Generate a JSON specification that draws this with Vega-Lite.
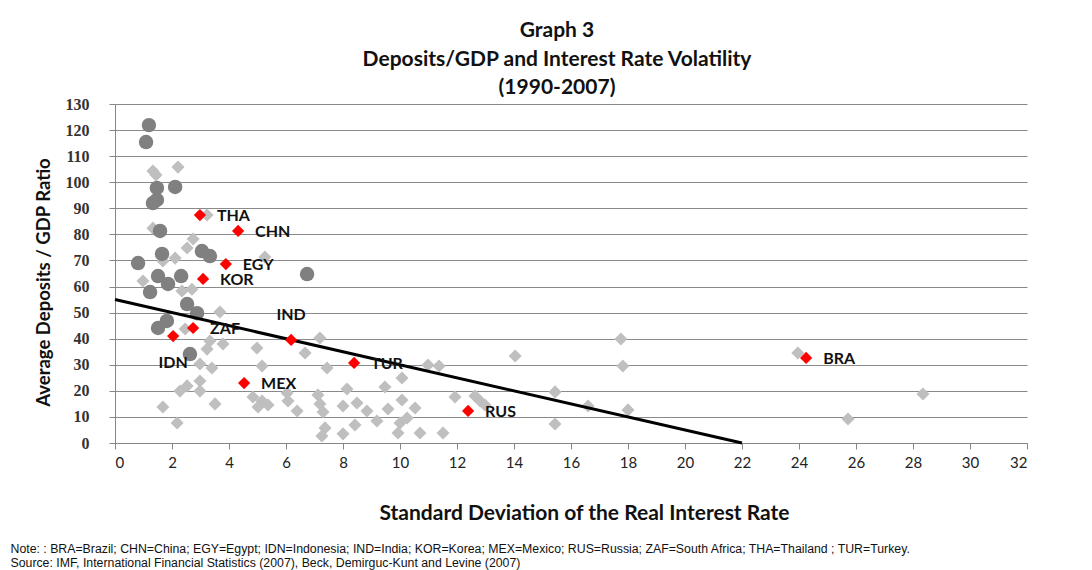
{
  "$schema": "https://vega.github.io/schema/vega-lite/v6.json",
  "width": 912,
  "height": 339,
  "autosize": {"type": "pad"},
  "padding": {"left": 10, "top": 20, "right": 5, "bottom": 2},
  "background": "white",
  "title": {
    "text": ["Graph 3", "Deposits/GDP and Interest Rate Volatility", "(1990-2007)"],
    "font": "Lato", "fontSize": 21, "fontWeight": "bold", "lineHeight": 28.5,
    "anchor": "middle", "frame": "group", "offset": -2, "color": "#111111", "dx": -14
  },
  "datasets": {
    "gray": [
      {"x": 1.33, "y": 104.3}, {"x": 1.44, "y": 102.8}, {"x": 2.21, "y": 105.8}, {"x": 1.33, "y": 82.4},
      {"x": 2.74, "y": 78.2}, {"x": 2.53, "y": 74.8}, {"x": 2.11, "y": 70.9}, {"x": 1.68, "y": 69.8},
      {"x": 5.26, "y": 71.3}, {"x": 3.23, "y": 87.4}, {"x": 0.98, "y": 62.1}, {"x": 2.35, "y": 58.3},
      {"x": 2.7, "y": 59.0}, {"x": 3.68, "y": 50.2}, {"x": 2.46, "y": 43.7}, {"x": 3.33, "y": 39.1},
      {"x": 3.79, "y": 38.0}, {"x": 3.23, "y": 36.0}, {"x": 4.98, "y": 36.4}, {"x": 2.98, "y": 30.3},
      {"x": 3.4, "y": 28.8}, {"x": 5.16, "y": 29.5}, {"x": 2.98, "y": 23.8}, {"x": 2.53, "y": 21.9},
      {"x": 2.28, "y": 19.9}, {"x": 2.98, "y": 19.9}, {"x": 1.68, "y": 13.8}, {"x": 3.51, "y": 15.0},
      {"x": 2.18, "y": 7.7}, {"x": 4.84, "y": 17.6}, {"x": 5.16, "y": 16.1}, {"x": 5.02, "y": 13.8},
      {"x": 5.37, "y": 14.6}, {"x": 6.04, "y": 19.2}, {"x": 6.07, "y": 16.1}, {"x": 6.39, "y": 12.3},
      {"x": 6.67, "y": 34.5}, {"x": 7.19, "y": 40.3}, {"x": 7.44, "y": 28.8}, {"x": 7.12, "y": 18.4},
      {"x": 7.19, "y": 15.0}, {"x": 7.3, "y": 11.9}, {"x": 7.37, "y": 5.8}, {"x": 7.26, "y": 2.7},
      {"x": 8.14, "y": 20.7}, {"x": 8.0, "y": 14.2}, {"x": 8.49, "y": 15.3}, {"x": 8.42, "y": 6.9},
      {"x": 8.0, "y": 3.5}, {"x": 8.84, "y": 12.3}, {"x": 9.19, "y": 8.4}, {"x": 9.47, "y": 21.5},
      {"x": 9.58, "y": 13.0}, {"x": 10.07, "y": 24.9}, {"x": 10.07, "y": 16.5}, {"x": 10.53, "y": 13.4},
      {"x": 10.25, "y": 9.6}, {"x": 10.0, "y": 7.7}, {"x": 9.93, "y": 3.8}, {"x": 10.7, "y": 3.8},
      {"x": 10.98, "y": 29.9}, {"x": 11.37, "y": 29.5}, {"x": 11.51, "y": 3.8}, {"x": 11.93, "y": 17.6},
      {"x": 12.63, "y": 18.0}, {"x": 12.81, "y": 16.1}, {"x": 12.98, "y": 14.6}, {"x": 14.04, "y": 33.4},
      {"x": 15.44, "y": 19.6}, {"x": 15.44, "y": 7.3}, {"x": 16.6, "y": 14.2}, {"x": 17.75, "y": 39.9},
      {"x": 17.82, "y": 29.5}, {"x": 18.0, "y": 12.7}, {"x": 23.96, "y": 34.5}, {"x": 25.72, "y": 9.2},
      {"x": 28.35, "y": 18.8}
    ],
    "dark": [
      {"x": 1.19, "y": 121.9}, {"x": 1.09, "y": 115.4}, {"x": 1.47, "y": 97.8}, {"x": 2.11, "y": 98.2},
      {"x": 1.33, "y": 92.0}, {"x": 1.47, "y": 93.2}, {"x": 1.58, "y": 81.3}, {"x": 1.65, "y": 72.5},
      {"x": 0.81, "y": 69.0}, {"x": 1.51, "y": 64.0}, {"x": 2.32, "y": 64.0}, {"x": 1.86, "y": 61.0},
      {"x": 1.23, "y": 57.9}, {"x": 3.05, "y": 73.6}, {"x": 3.33, "y": 71.7}, {"x": 2.53, "y": 53.3},
      {"x": 2.88, "y": 49.8}, {"x": 1.82, "y": 46.8}, {"x": 1.51, "y": 44.1}, {"x": 2.63, "y": 34.1},
      {"x": 6.74, "y": 64.8}
    ],
    "red": [
      {"code": "THA", "x": 2.98, "y": 87.4}, {"code": "CHN", "x": 4.32, "y": 81.3},
      {"code": "EGY", "x": 3.89, "y": 68.6}, {"code": "KOR", "x": 3.09, "y": 62.9},
      {"code": "ZAF", "x": 2.74, "y": 44.1}, {"code": "IDN", "x": 2.04, "y": 41.0},
      {"code": "IND", "x": 6.18, "y": 39.5}, {"code": "MEX", "x": 4.53, "y": 23.0},
      {"code": "TUR", "x": 8.39, "y": 30.7}, {"code": "RUS", "x": 12.39, "y": 12.3},
      {"code": "BRA", "x": 24.25, "y": 32.6}
    ],
    "fit": [{"x": 0, "y": 55}, {"x": 22, "y": 0}]
  },
  "encoding": {
    "y": {
      "field": "y", "type": "quantitative",
      "scale": {"domain": [0, 130], "nice": false},
      "axis": {
        "values": [0, 10, 20, 30, 40, 50, 60, 70, 80, 90, 100, 110, 120, 130],
        "labelOverlap": false,
        "grid": true, "gridColor": "#8a8a8a", "gridWidth": 1,
        "tickSize": 6, "tickColor": "#868686", "domainColor": "#868686",
        "labelFont": "Liberation Serif", "labelFontSize": 16, "labelFontWeight": "bold", "labelColor": "#333333",
        "labelPadding": 20,
        "title": "Average Deposits / GDP Ratio",
        "titleFont": "Lato", "titleFontSize": 18.5, "titleFontWeight": "bold", "titleColor": "#111111",
        "titlePadding": 12, "titleY": 178
      }
    }
  },
  "layer": [
    {
      "data": {"name": "gray"},
      "mark": {"type": "point", "shape": "diamond", "filled": true, "size": 170, "color": "#bfbfbf", "opacity": 1},
      "encoding": {
        "x": {
          "field": "x", "type": "quantitative",
          "scale": {"domain": [0, 32], "nice": false, "zero": false},
          "axis": {
            "values": [0, 2, 4, 6, 8, 10, 12, 14, 16, 18, 20, 22, 24, 26, 28, 30, 32],
            "labelOverlap": false,
            "grid": false, "tickSize": 6, "tickColor": "#868686", "domainColor": "#868686",
            "labelFont": "Lato", "labelFontSize": 15, "labelColor": "#222222", "labelPadding": 6,
            "title": "Standard Deviation of the Real Interest Rate",
            "titleFont": "Lato", "titleFontSize": 21, "titleFontWeight": "bold", "titleColor": "#111111",
            "titlePadding": 32, "titleX": 469
          }
        }
      }
    },
    {
      "data": {"name": "dark"},
      "mark": {"type": "point", "shape": "circle", "filled": true, "size": 210, "color": "#808080", "opacity": 1},
      "encoding": {
        "x": {"field": "x", "type": "quantitative", "axis": null}
      }
    },
    {
      "data": {"name": "fit"},
      "mark": {"type": "line", "color": "#000000", "strokeWidth": 3},
      "encoding": {
        "x": {
          "field": "x", "type": "quantitative",
          "axis": {
            "orient": "bottom", "labels": false, "ticks": false, "domain": false, "grid": false,
            "title": [
              "Note: : BRA=Brazil; CHN=China; EGY=Egypt; IDN=Indonesia; IND=India;  KOR=Korea; MEX=Mexico;   RUS=Russia; ZAF=South Africa; THA=Thailand ; TUR=Turkey.",
              "Source: IMF, International Financial Statistics (2007), Beck, Demirguc-Kunt and Levine (2007)"
            ],
            "titleX": -105, "titleY": 99, "titleAlign": "left", "titleAnchor": "start", "titleBaseline": "top",
            "titleFont": "Liberation Sans", "titleFontSize": 12.3, "titleFontWeight": "normal",
            "titleLineHeight": 14, "titleColor": "#111111"
          }
        }
      }
    },
    {
      "data": {"name": "red"},
      "mark": {"type": "point", "shape": "diamond", "filled": true, "size": 150, "color": "#ff0000", "opacity": 1},
      "encoding": {
        "x": {"field": "x", "type": "quantitative", "axis": null}
      }
    },
    {
      "data": {"name": "red"},
      "transform": [{"filter": "datum.code != 'IDN' && datum.code != 'IND'"}],
      "mark": {"type": "text", "align": "left", "baseline": "middle", "dx": 17, "dy": 1, "font": "Lato", "fontSize": 16, "fontWeight": "bold", "color": "#111111"},
      "encoding": {
        "x": {"field": "x", "type": "quantitative", "axis": null},
        "text": {"field": "code"}
      }
    },
    {
      "data": {"name": "red"},
      "transform": [{"filter": "datum.code == 'IDN'"}],
      "mark": {"type": "text", "align": "center", "baseline": "middle", "dy": 27, "font": "Lato", "fontSize": 16, "fontWeight": "bold", "color": "#111111"},
      "encoding": {
        "x": {"field": "x", "type": "quantitative", "axis": null},
        "text": {"field": "code"}
      }
    },
    {
      "data": {"name": "red"},
      "transform": [{"filter": "datum.code == 'IND'"}],
      "mark": {"type": "text", "align": "center", "baseline": "middle", "dy": -25, "font": "Lato", "fontSize": 16, "fontWeight": "bold", "color": "#111111"},
      "encoding": {
        "x": {"field": "x", "type": "quantitative", "axis": null},
        "text": {"field": "code"}
      }
    }
  ],
  "resolve": {"axis": {"x": "independent"}},
  "config": {"view": {"stroke": null}}
}
